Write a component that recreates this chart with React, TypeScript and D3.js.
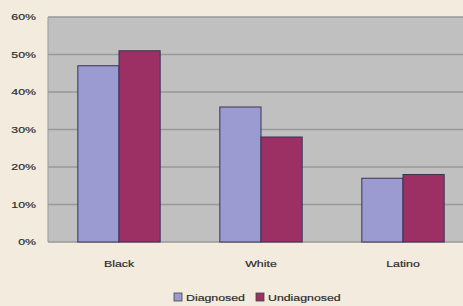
import * as d3 from "d3";

const categories = ["Black", "White", "Latino"];
const seriesNames = ["Diagnosed", "Undiagnosed"];
const diagnosed = [0.47, 0.36, 0.17];
const undiagnosed = [0.51, 0.28, 0.18];
const yTicks = [0, 0.1, 0.2, 0.3, 0.4, 0.5, 0.6];

const colors = ["#9b9bd2", "#9c2f64"];

// the source picture is stretched sideways, so text gets a horizontal scale
const stretch = 1.3;

function Label({ x, y, anchor = "start", size = 9.5, children }: any) {
  return (
    <text
      transform={`translate(${x},${y}) scale(${stretch},1)`}
      textAnchor={anchor}
      fontSize={size}
      fill="#222"
      stroke="#444"
      strokeWidth={0.2}
    >
      {children}
    </text>
  );
}

export default function App() {
  const width = 463;
  const height = 306;
  const marginLeft = 48;
  const plotRight = 474; // plot runs past the right edge of the picture
  const marginTop = 17;
  const plotBottom = 242;

  const x = d3.scaleBand(categories, [marginLeft, plotRight])
    .paddingInner(0.42)
    .paddingOuter(0.21);
  const xs = d3.scaleBand(seriesNames, [0, x.bandwidth()]);
  const y = d3.scaleLinear([0, 0.6], [plotBottom, marginTop]);

  const values = [diagnosed, undiagnosed];
  const fmt = d3.format(".0%");

  return (
    <svg
      width={width}
      height={height}
      style={{ position: "fixed", left: 0, top: 0, background: "#f3ebdd" }}
      fontFamily="Liberation Sans, Arial, sans-serif"
    >
      <rect x={marginLeft} y={marginTop} width={plotRight - marginLeft} height={plotBottom - marginTop} fill="#c0c0c0" />

      {/* gridlines */}
      <g stroke="#999" strokeWidth={1.5}>
        {yTicks.map((t) => (
          <line key={t} x1={marginLeft} x2={plotRight} y1={y(t)} y2={y(t)} />
        ))}
      </g>
      <line x1={marginLeft} x2={marginLeft} y1={marginTop} y2={plotBottom} stroke="#999" />

      {/* bars */}
      {values.map((vals, s) => (
        <g key={s} fill={colors[s]} stroke="#3a3355" strokeWidth={1}>
          {categories.map((c, i) => (
            <rect
              key={c}
              x={(x(c) ?? 0) + (xs(seriesNames[s]) ?? 0)}
              y={y(vals[i])}
              width={xs.bandwidth()}
              height={y(0) - y(vals[i])}
            />
          ))}
        </g>
      ))}

      {/* y tick labels */}
      {yTicks.map((t) => (
        <Label key={t} x={36} y={y(t) + 3.4} anchor="end">{fmt(t)}</Label>
      ))}

      {/* category labels */}
      {categories.map((c) => (
        <Label key={c} x={(x(c) ?? 0) + x.bandwidth() / 2} y={266.5} anchor="middle">{c}</Label>
      ))}

      {/* legend */}
      {seriesNames.map((n, i) => {
        const lx = i === 0 ? 174 : 256;
        return (
          <g key={n}>
            <rect x={lx} y={293} width={8} height={8} fill={colors[i]} stroke="#444" strokeWidth={0.8} />
            <Label x={lx + 12} y={301} size={9.5}>{n}</Label>
          </g>
        );
      })}
    </svg>
  );
}
